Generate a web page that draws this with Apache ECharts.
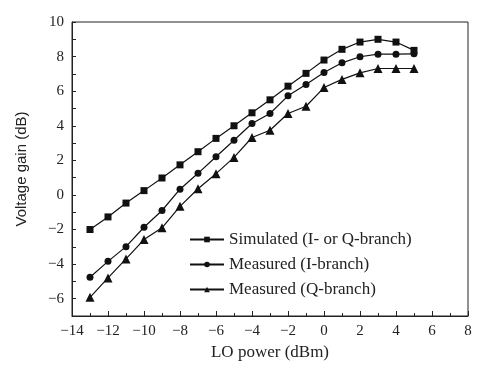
<!DOCTYPE html>
<html>
<head>
<meta charset="utf-8">
<script src="https://cdn.jsdelivr.net/npm/echarts@6/dist/echarts.min.js"></script>
<style>html,body{margin:0;padding:0;background:#fff}#c{width:495px;height:371px}</style>
</head>
<body>
<div id="c"></div>
<script>
const loPower = [-13,-12,-11,-10,-9,-8,-7,-6,-5,-4,-3,-2,-1,0,1,2,3,4,5];
const simulated = [-2.0,-1.27,-0.47,0.25,0.98,1.74,2.5,3.27,4.0,4.75,5.5,6.29,7.03,7.8,8.42,8.84,9.0,8.84,8.36];
const measuredI = [-4.76,-3.84,-2.99,-1.87,-0.9,0.33,1.25,2.21,3.16,4.13,4.71,5.73,6.39,7.08,7.64,7.99,8.14,8.14,8.16];
const measuredQ = [-5.92,-4.8,-3.7,-2.58,-1.9,-0.66,0.36,1.23,2.17,3.32,3.74,4.71,5.13,6.21,6.68,7.06,7.31,7.31,7.31];
const seriesNames = ['Simulated (I- or Q-branch)','Measured (I-branch)','Measured (Q-branch)'];
const xName = 'LO power (dBm)';
const yName = 'Voltage gain (dB)';

const serif = '"Liberation Serif", "DejaVu Serif", serif';
const fmt = v => v < 0 ? '\u2212' + Math.abs(v) : String(v);
const pairs = arr => loPower.map((x, i) => [x, arr[i]]);

const chart = echarts.init(document.getElementById('c'), null, {renderer: 'canvas'});
const mk = (name, data, symbol, size) => ({
  name, type: 'line', data: pairs(data), symbol, symbolSize: size,
  lineStyle: {color: '#111', width: 1.2},
  itemStyle: {color: '#111'},
  animation: false
});
chart.setOption({
  backgroundColor: '#fff',
  grid: {left: 72, right: 27, top: 22, bottom: 55, show: true, borderColor: '#222', borderWidth: 1},
  legend: {
    orient: 'vertical', left: 189, top: 231, padding: 0, itemWidth: 34, itemHeight: 7, itemGap: 8,
    textStyle: {fontFamily: serif, fontSize: 17, color: '#222'},
    data: seriesNames
  },
  xAxis: {
    type: 'value', min: -14, max: 8, interval: 2,
    name: xName, nameLocation: 'middle', nameGap: 25,
    nameTextStyle: {fontFamily: serif, fontSize: 17, color: '#222'},
    axisLine: {onZero: false, lineStyle: {color: '#222', width: 1}},
    axisTick: {inside: true, length: 5, lineStyle: {color: '#222'}},
    minorTick: {show: true, splitNumber: 2, length: 3, lineStyle: {color: '#222'}},
    splitLine: {show: false},
    axisLabel: {fontFamily: serif, fontSize: 15, color: '#222', margin: 8, formatter: fmt}
  },
  yAxis: {
    type: 'value', min: -7, max: 10, interval: 1,
    name: yName, nameLocation: 'middle', nameGap: 43,
    nameTextStyle: {fontFamily: '"Liberation Sans", Arial, sans-serif', fontSize: 15, color: '#222'},
    axisLine: {onZero: false, lineStyle: {color: '#222', width: 1}},
    axisTick: {inside: true, length: 4, lineStyle: {color: '#222'}},
    splitLine: {show: false},
    axisLabel: {fontFamily: serif, fontSize: 15, color: '#222', margin: 8,
      formatter: v => (v % 2 === 0 ? fmt(v) : '')}
  },
  series: [
    mk(seriesNames[0], simulated, 'rect', 7),
    mk(seriesNames[1], measuredI, 'circle', 7),
    mk(seriesNames[2], measuredQ, 'triangle', 9)
  ]
});
</script>
</body>
</html>
